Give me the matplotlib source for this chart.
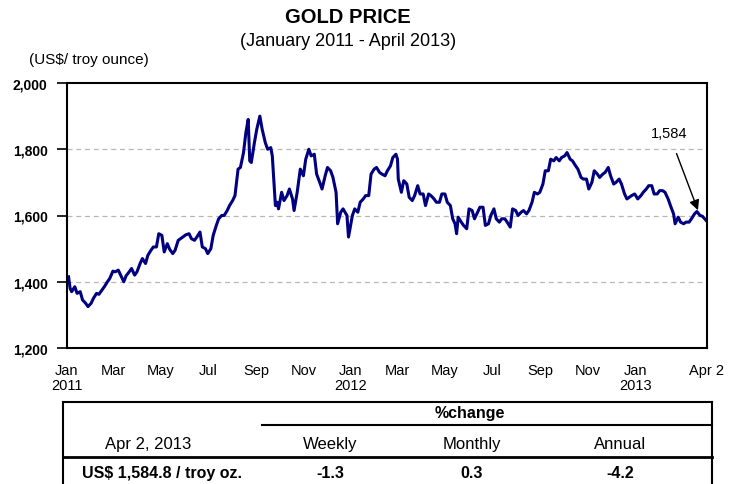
import numpy as np
import pandas as pd
import matplotlib
matplotlib.use("Agg")
import matplotlib.pyplot as plt
import matplotlib.dates as mdates

plt.rcParams['font.family'] = ['Liberation Sans Narrow', 'Liberation Sans', 'DejaVu Sans']

# gold price, US$/troy ounce
dates = [
    "2011-01-03", "2011-01-05", "2011-01-07", "2011-01-11", "2011-01-14", "2011-01-18", "2011-01-21",
    "2011-01-25", "2011-01-28", "2011-02-01", "2011-02-04", "2011-02-08", "2011-02-11", "2011-02-15",
    "2011-02-18", "2011-02-22", "2011-02-25", "2011-03-01", "2011-03-04", "2011-03-08", "2011-03-11",
    "2011-03-15", "2011-03-18", "2011-03-22", "2011-03-25", "2011-03-29", "2011-04-01", "2011-04-05",
    "2011-04-08", "2011-04-12", "2011-04-15", "2011-04-19", "2011-04-22", "2011-04-26", "2011-04-29",
    "2011-05-03", "2011-05-06", "2011-05-10", "2011-05-13", "2011-05-17", "2011-05-20", "2011-05-24",
    "2011-05-27", "2011-05-31", "2011-06-03", "2011-06-07", "2011-06-10", "2011-06-14", "2011-06-17",
    "2011-06-21", "2011-06-24", "2011-06-28", "2011-07-01", "2011-07-05", "2011-07-08", "2011-07-12",
    "2011-07-15", "2011-07-19", "2011-07-22", "2011-07-26", "2011-07-29", "2011-08-02", "2011-08-05",
    "2011-08-09", "2011-08-12", "2011-08-16", "2011-08-19", "2011-08-22", "2011-08-24", "2011-08-26",
    "2011-08-30", "2011-09-02", "2011-09-06", "2011-09-09", "2011-09-13", "2011-09-16", "2011-09-20",
    "2011-09-22", "2011-09-26", "2011-09-28", "2011-09-30", "2011-10-04", "2011-10-07", "2011-10-11",
    "2011-10-14", "2011-10-18", "2011-10-20", "2011-10-24", "2011-10-28", "2011-11-01", "2011-11-04",
    "2011-11-08", "2011-11-11", "2011-11-15", "2011-11-18", "2011-11-22", "2011-11-25", "2011-11-29",
    "2011-12-02", "2011-12-06", "2011-12-09", "2011-12-13", "2011-12-15", "2011-12-19", "2011-12-22",
    "2011-12-27", "2011-12-29",
    "2012-01-03", "2012-01-06", "2012-01-10", "2012-01-13", "2012-01-17", "2012-01-20", "2012-01-24",
    "2012-01-27", "2012-01-31", "2012-02-03", "2012-02-07", "2012-02-10", "2012-02-14", "2012-02-17",
    "2012-02-21", "2012-02-24", "2012-02-28", "2012-03-01", "2012-03-02", "2012-03-06", "2012-03-09",
    "2012-03-13", "2012-03-16", "2012-03-20", "2012-03-23", "2012-03-27", "2012-03-30", "2012-04-03",
    "2012-04-06", "2012-04-10", "2012-04-13", "2012-04-17", "2012-04-20", "2012-04-24", "2012-04-27",
    "2012-05-01", "2012-05-04", "2012-05-08", "2012-05-11", "2012-05-14", "2012-05-16", "2012-05-18",
    "2012-05-22", "2012-05-25", "2012-05-29", "2012-06-01", "2012-06-05", "2012-06-08", "2012-06-12",
    "2012-06-15", "2012-06-19", "2012-06-22", "2012-06-26", "2012-06-29", "2012-07-03", "2012-07-06",
    "2012-07-10", "2012-07-13", "2012-07-17", "2012-07-20", "2012-07-24", "2012-07-27", "2012-07-31",
    "2012-08-03", "2012-08-07", "2012-08-10", "2012-08-14", "2012-08-17", "2012-08-21", "2012-08-24",
    "2012-08-28", "2012-08-31", "2012-09-04", "2012-09-07", "2012-09-11", "2012-09-14", "2012-09-18",
    "2012-09-21", "2012-09-25", "2012-09-28", "2012-10-02", "2012-10-05", "2012-10-09", "2012-10-12",
    "2012-10-16", "2012-10-19", "2012-10-23", "2012-10-26", "2012-10-30", "2012-11-02", "2012-11-06",
    "2012-11-09", "2012-11-13", "2012-11-16", "2012-11-20", "2012-11-23", "2012-11-27", "2012-11-30",
    "2012-12-04", "2012-12-07", "2012-12-11", "2012-12-14", "2012-12-18", "2012-12-21", "2012-12-27",
    "2012-12-31",
    "2013-01-04", "2013-01-08", "2013-01-11", "2013-01-15", "2013-01-18", "2013-01-22", "2013-01-25",
    "2013-01-29", "2013-02-01", "2013-02-05", "2013-02-08", "2013-02-12", "2013-02-15", "2013-02-19",
    "2013-02-21", "2013-02-25", "2013-02-28", "2013-03-04", "2013-03-07", "2013-03-11", "2013-03-14",
    "2013-03-18", "2013-03-21", "2013-03-25", "2013-03-28", "2013-04-02",
]
prices = [
    1415, 1380, 1370, 1385, 1365, 1370, 1345,
    1335, 1325, 1335, 1350, 1365, 1362, 1375,
    1385, 1400, 1410, 1432, 1430, 1435, 1420,
    1400, 1418, 1430, 1440, 1420, 1430, 1455,
    1470, 1455, 1480, 1495, 1505, 1505, 1545,
    1540, 1490, 1515, 1498, 1485, 1495, 1525,
    1530, 1537, 1542, 1545, 1530, 1525, 1535,
    1550, 1505, 1500, 1485, 1500, 1540, 1570,
    1590, 1600, 1600, 1615, 1630, 1645, 1660,
    1740, 1745, 1790, 1850, 1890, 1765, 1760,
    1820, 1860, 1900, 1860, 1820, 1800, 1805,
    1780, 1630, 1640, 1620, 1670, 1645, 1660,
    1680, 1650, 1615, 1670, 1740, 1720, 1770,
    1800, 1780, 1785, 1725, 1700, 1680, 1720,
    1745, 1735, 1715, 1670, 1575, 1610, 1620,
    1600, 1535,
    1600, 1620, 1610, 1640, 1650, 1660, 1660,
    1725, 1740, 1745, 1730, 1725, 1720, 1735,
    1750, 1775, 1785, 1770, 1710, 1670, 1705,
    1695, 1655, 1645, 1660, 1690, 1665, 1665,
    1630, 1665, 1660, 1650, 1640, 1640, 1665,
    1665, 1640, 1630, 1590, 1575, 1545, 1595,
    1580, 1570, 1560, 1620, 1615, 1590, 1610,
    1625, 1625, 1570, 1575, 1600, 1620, 1590,
    1580, 1590, 1590, 1580, 1565, 1620, 1615,
    1600, 1610, 1615, 1605, 1615, 1640, 1670,
    1665, 1670, 1695, 1735, 1735, 1770, 1765,
    1775, 1765, 1775, 1780, 1790, 1770, 1765,
    1750, 1740, 1715, 1710, 1710, 1680, 1700,
    1735, 1725, 1715, 1725, 1730, 1745, 1720,
    1695, 1700, 1710, 1695, 1665, 1650, 1660,
    1665,
    1650, 1660, 1670, 1680, 1690, 1690, 1665,
    1665, 1675, 1675, 1670, 1650, 1630, 1605,
    1575, 1595, 1580, 1575, 1580, 1580, 1590,
    1605, 1612, 1600, 1598, 1584.8,
]

tick_dates = ["2011-01-01", "2011-03-01", "2011-05-01", "2011-07-01", "2011-09-01", "2011-11-01",
              "2012-01-01", "2012-03-01", "2012-05-01", "2012-07-01", "2012-09-01", "2012-11-01",
              "2013-01-01", "2013-04-02"]
tick_labels = ["Jan\n2011", "Mar", "May", "Jul", "Sep", "Nov", "Jan\n2012", "Mar", "May", "Jul",
               "Sep", "Nov", "Jan\n2013", "Apr 2"]

# %change table
table_date = "Apr 2, 2013"
table_price = "US$ 1,584.8 / troy oz."
change_names = ["Weekly", "Monthly", "Annual"]
change_values = ["-1.3", "0.3", "-4.2"]

x = pd.to_datetime(dates)

fig = plt.figure(figsize=(7.36, 4.85), dpi=100)
ax = fig.add_axes([67 / 736, 1 - 349 / 485, 640 / 736, 265 / 485])

ax.plot(x, prices, color="#000080", linewidth=2.2)

ax.set_ylim(1200, 2000)
ax.set_yticks([1200, 1400, 1600, 1800, 2000])
ax.set_yticklabels(["1,200", "1,400", "1,600", "1,800", "2,000"], fontweight="bold", fontsize=10)
for yv in [1400, 1600, 1800]:
    ax.axhline(yv, color="#b8b8b8", linestyle=(0, (4, 3)), linewidth=0.9, zorder=0)

ax.set_xlim(pd.Timestamp("2011-01-02"), pd.Timestamp("2013-04-03"))
ax.set_xticks(pd.to_datetime(tick_dates))
ax.set_xticklabels(tick_labels, fontsize=10.5, linespacing=1.1, va="top")
ax.tick_params(axis="x", length=0, pad=11)
ax.tick_params(axis="y", direction="out", length=7, width=1.2, pad=7)
for s in ax.spines.values():
    s.set_linewidth(1.5)

# last value marker
ax.annotate("1,584", xy=(pd.Timestamp("2013-03-23"), 1612), xytext=(pd.Timestamp("2013-02-13"), 1848),
            fontsize=10.5, ha="center", va="center",
            arrowprops=dict(arrowstyle="-|>", color="black", lw=1.0, shrinkA=8, shrinkB=1,
                            mutation_scale=15))

fig.text(0.473, 0.963, "GOLD PRICE", ha="center", va="center", fontsize=14.5, fontweight="bold")
fig.text(0.473, 0.915, "(January 2011 - April 2013)", ha="center", va="center", fontsize=13)
fig.text(0.04, 0.877, "(US$/ troy ounce)", ha="left", va="center", fontsize=11)

# table below the chart
def hline(x0, x1, y, lw):
    fig.add_artist(plt.Line2D([x0 / 736, x1 / 736], [1 - y / 485, 1 - y / 485], color="black",
                              linewidth=lw, transform=fig.transFigure))

def vline(xp, y0, y1, lw):
    fig.add_artist(plt.Line2D([xp / 736, xp / 736], [1 - y0 / 485, 1 - y1 / 485], color="black",
                              linewidth=lw, transform=fig.transFigure))

hline(63, 712, 403, 1.5)
hline(262, 712, 426, 1.5)
hline(63, 712, 458, 2.0)
vline(63, 403, 485, 1.5)
vline(712, 403, 485, 1.5)

col_x = [330, 472, 620]
fig.text(470 / 736, 1 - 414 / 485, "%change", ha="center", va="center", fontsize=11.5, fontweight="bold")
fig.text(148 / 736, 1 - 445 / 485, table_date, ha="center", va="center", fontsize=12)
fig.text(162 / 736, 1 - 474 / 485, table_price, ha="center", va="center", fontsize=11.5, fontweight="bold")
for cx, name, val in zip(col_x, change_names, change_values):
    fig.text(cx / 736, 1 - 445 / 485, name, ha="center", va="center", fontsize=12)
    fig.text(cx / 736, 1 - 474 / 485, val, ha="center", va="center", fontsize=11.5, fontweight="bold")

fig.savefig("out.png", dpi=100)
